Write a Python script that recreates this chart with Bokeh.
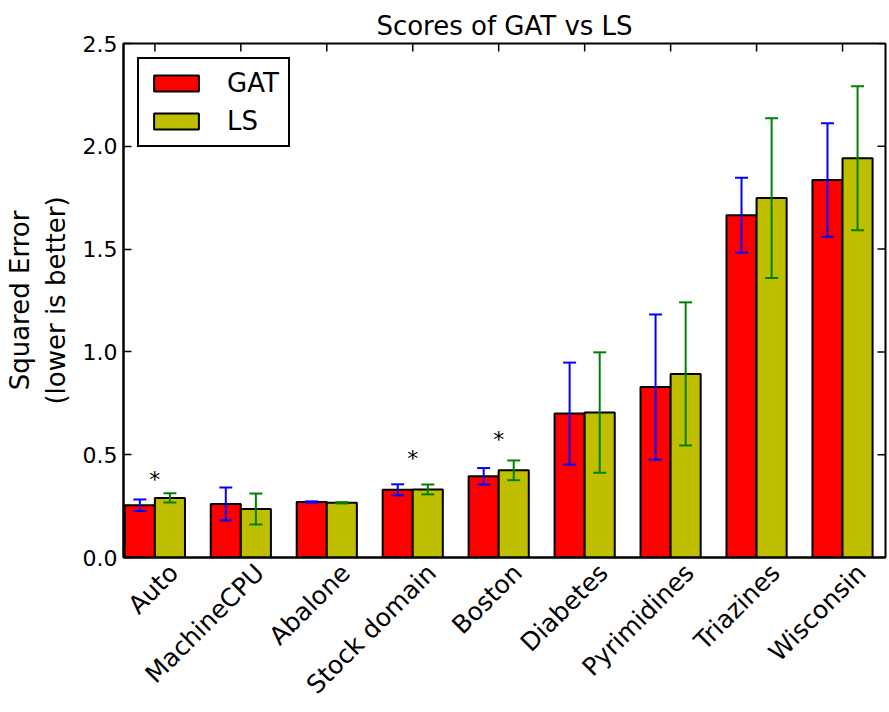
import math
from bokeh.plotting import figure
from bokeh.models import Range1d, FixedTicker, Whisker, TeeHead, ColumnDataSource
from bokeh.core.properties import value
from bokeh.embed import file_html
from bokeh.resources import INLINE

# ---- data ----
names = ["Auto", "MachineCPU", "Abalone", "Stock domain", "Boston",
         "Diabetes", "Pyrimidines", "Triazines", "Wisconsin"]
gat_mean = [0.254, 0.260, 0.270, 0.329, 0.395, 0.700, 0.829, 1.665, 1.836]
gat_err = [0.028, 0.080, 0.003, 0.027, 0.040, 0.248, 0.353, 0.182, 0.276]
ls_mean = [0.290, 0.236, 0.266, 0.331, 0.424, 0.705, 0.893, 1.748, 1.942]
ls_err = [0.022, 0.075, 0.003, 0.024, 0.048, 0.293, 0.348, 0.389, 0.350]
star_idx = [0, 3, 4]
star_y = [0.40, 0.503, 0.594]
y_ticks = [0.0, 0.5, 1.0, 1.5, 2.0, 2.5]
y_tick_labels = ["0.0", "0.5", "1.0", "1.5", "2.0", "2.5"]

width = 0.35
label_shift = 0.22          # matplotlib-like placement of rotated labels
ind = list(range(len(names)))
FONT = "DejaVu Sans"
X0, X1, Y0, Y1 = -0.015, 8.85, 0.0, 2.5

gat_src = ColumnDataSource(dict(
    x=[i + width / 2 for i in ind], top=gat_mean,
    upper=[m + e for m, e in zip(gat_mean, gat_err)],
    lower=[m - e for m, e in zip(gat_mean, gat_err)]))
ls_src = ColumnDataSource(dict(
    x=[i + 1.5 * width for i in ind], top=ls_mean,
    upper=[m + e for m, e in zip(ls_mean, ls_err)],
    lower=[m - e for m, e in zip(ls_mean, ls_err)]))

p = figure(width=889, height=712, output_backend="svg", toolbar_location=None,
           x_range=Range1d(X0, X1), y_range=Range1d(Y0, Y1),
           title="Scores of GAT vs LS",
           min_border_left=123, min_border_right=4, min_border_top=43,
           min_border_bottom=154)
p.background_fill_color = "white"
p.border_fill_color = "white"
p.outline_line_color = "black"
p.outline_line_width = 2
p.outline_line_alpha = 1.0
p.xgrid.visible = False
p.ygrid.visible = False

p.title.align = "center"
p.title.text_font = FONT
p.title.text_font_size = "26px"
p.title.text_font_style = "normal"
p.title.text_color = "black"
p.title.standoff = 5

p.vbar(x="x", top="top", width=width, source=gat_src, fill_color="#ff0000",
       line_color="black", line_width=2, legend_label="GAT")
p.vbar(x="x", top="top", width=width, source=ls_src, fill_color="#bfbf00",
       line_color="black", line_width=2, legend_label="LS")

for src, col in ((gat_src, "#0000ff"), (ls_src, "#008000")):
    w = Whisker(source=src, base="x", upper="upper", lower="lower",
                line_color=col, line_width=2, level="overlay",
                upper_head=TeeHead(size=13, line_color=col, line_width=2),
                lower_head=TeeHead(size=13, line_color=col, line_width=2))
    p.add_layout(w)

p.text(x=[i + width for i in star_idx], y=star_y, text=["*"] * len(star_idx),
       text_font=value(FONT), text_font_size="22px", text_align="center",
       text_baseline="middle", text_color="black", y_offset=4)

cat_ticks = [i + width for i in ind]

# inward tick marks on the top and right frame edges
p.ray(x=cat_ticks, y=[Y1] * len(cat_ticks), length=8, length_units="screen",
      angle=-math.pi / 2, line_color="black", line_width=1.5)
p.ray(x=[X1] * len(y_ticks), y=y_ticks, length=8, length_units="screen",
      angle=math.pi, line_color="black", line_width=1.5)

# bottom axis
label_pos = [t + label_shift for t in cat_ticks]
xa = p.xaxis[0]
xa.ticker = FixedTicker(ticks=label_pos)
xa.major_label_overrides = {t: n for t, n in zip(label_pos, names)}
xa.major_label_orientation = math.pi / 4
xa.major_label_text_font = FONT
xa.major_label_text_font_size = "25px"
xa.major_label_text_color = "black"
xa.major_label_standoff = 11
xa.major_tick_in = 0
xa.major_tick_out = 0
xa.minor_tick_line_color = None
xa.axis_line_width = 2
xa.axis_line_color = "black"

# left axis
ya = p.yaxis[0]
ya.ticker = FixedTicker(ticks=y_ticks)
ya.major_label_overrides = {t: l for t, l in zip(y_ticks, y_tick_labels)}
ya.major_label_text_font = FONT
ya.major_label_text_font_size = "22px"
ya.major_label_text_color = "black"
ya.major_label_standoff = 6
ya.major_tick_in = 8
ya.major_tick_out = 0
ya.major_tick_line_width = 1.5
ya.major_tick_line_color = "black"
ya.minor_tick_line_color = None
ya.axis_line_width = 2
ya.axis_line_color = "black"
ya.axis_label = "Squared Error\n(lower is better)"
ya.axis_label_text_font = FONT
ya.axis_label_text_font_size = "26px"
ya.axis_label_text_font_style = "normal"
ya.axis_label_text_color = "black"
ya.axis_label_standoff = 9

lg = p.legend[0]
lg.location = "top_left"
lg.margin = 14
lg.padding = 9
lg.spacing = 8
lg.glyph_width = 56
lg.glyph_height = 20
lg.label_standoff = 23
lg.label_text_font = FONT
lg.label_text_font_size = "26px"
lg.label_text_color = "black"
lg.border_line_color = "black"
lg.border_line_width = 2
lg.border_line_alpha = 1.0
lg.background_fill_alpha = 1.0

open("out.html", "w").write(file_html(p, INLINE))
